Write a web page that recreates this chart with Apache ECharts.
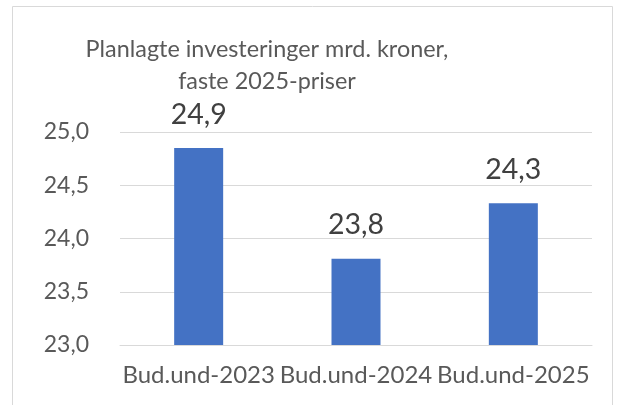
<!DOCTYPE html>
<html>
<head>
<meta charset="utf-8">
<script src="https://cdn.jsdelivr.net/npm/echarts@6/dist/echarts.min.js"></script>
<style>
html, body { margin: 0; padding: 0; background: #fff; }
#chart { width: 622px; height: 405px; }
</style>
</head>
<body>
<div id="chart"></div>
<script>
const categories = ['Bud.und-2023', 'Bud.und-2024', 'Bud.und-2025'];
const investments = [24.85, 23.81, 24.33];
const yMin = 23, yMax = 25, yStep = 0.5;

const comma = v => v.toFixed(1).replace('.', ',');
const font = 'Lato, "Open Sans", sans-serif';

const chart = echarts.init(document.getElementById('chart'));
chart.setOption({
    animation: false,
    textStyle: { fontFamily: font },
    graphic: [{
        type: 'rect',
        shape: { x: 12.5, y: 6.5, width: 600, height: 420 },
        style: { fill: 'none', stroke: '#d9d9d9', lineWidth: 1 }
    }],
    title: {
        text: 'Planlagte investeringer mrd. kroner,\nfaste 2025-priser',
        left: 262,
        top: 28,
        textAlign: 'center',
        textStyle: { fontFamily: font, fontSize: 23.4, fontWeight: 'normal', color: '#595959', lineHeight: 32 }
    },
    grid: { left: 120, right: 30, top: 132, bottom: 60 },
    xAxis: {
        type: 'category',
        data: categories,
        axisLine: { lineStyle: { color: '#d9d9d9' } },
        axisTick: { show: false },
        axisLabel: { color: '#595959', fontSize: 24, margin: 18, fontFamily: font, interval: 0 }
    },
    yAxis: {
        type: 'value',
        min: yMin, max: yMax, interval: yStep,
        axisLine: { show: false },
        axisTick: { show: false },
        splitLine: { lineStyle: { color: '#d9d9d9' } },
        axisLabel: { color: '#595959', fontSize: 23, margin: 31, fontFamily: font, formatter: comma }
    },
    series: [{
        type: 'bar',
        data: investments,
        barWidth: 49,
        itemStyle: { color: '#4472c4' },
        label: {
            show: true, position: 'top', distance: 19,
            color: '#404040', fontSize: 28.5, fontFamily: font,
            formatter: p => comma(p.value)
        }
    }]
});
</script>
</body>
</html>
